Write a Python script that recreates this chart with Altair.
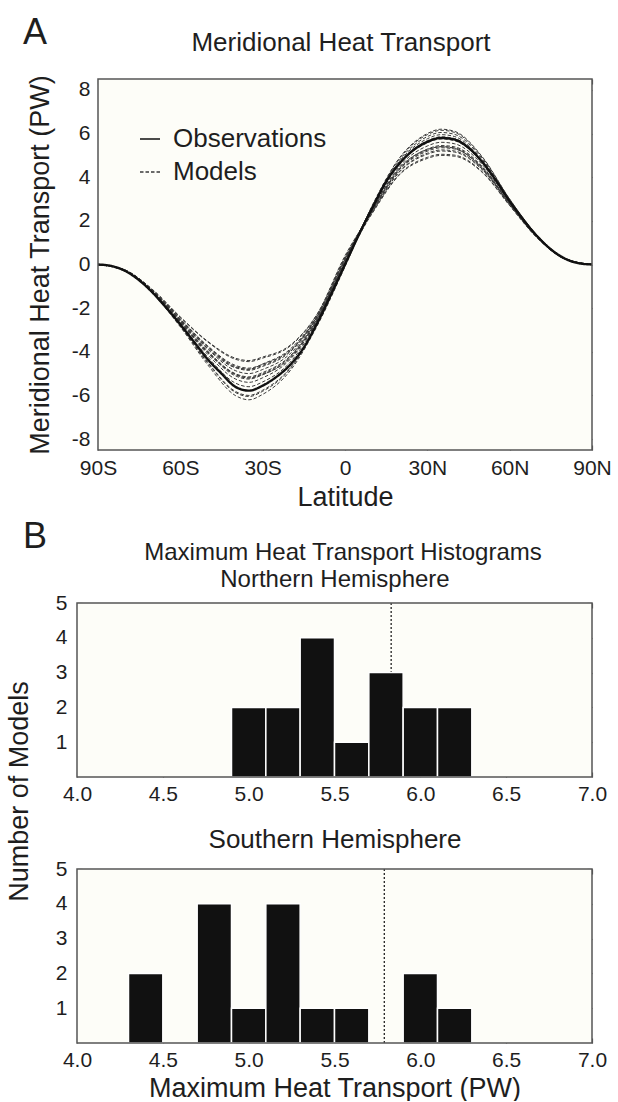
import altair as alt
import pandas as pd

FONT = "Liberation Sans"
INK = "#1e1e1e"
FRAME = "#555555"
PANEL_BG = "#fdfdf8"

# ---------------- Panel A: meridional heat transport ----------------
obs_lat = [-90, -85, -80, -75, -70, -65, -60, -55, -50, -45, -40, -35, -30, -25, -20, -15, -10, -5, 0,
           5, 10, 15, 20, 25, 30, 35, 40, 45, 50, 55, 60, 65, 70, 75, 80, 85, 90]
obs_val = [0, -0.07, -0.3, -0.72, -1.3, -2.0, -2.75, -3.55, -4.35, -5.0, -5.6, -5.78, -5.55, -5.15, -4.6, -3.8, -2.65, -1.35, 0.0,
           1.35, 2.6, 3.8, 4.65, 5.25, 5.62, 5.8, 5.72, 5.35, 4.7, 3.85, 2.9, 2.05, 1.3, 0.7, 0.28, 0.06, 0]

model_lat = [-90, -80, -70, -60, -50, -40, -35, -30, -20, -10, 0, 10, 20, 30, 35, 40, 50, 60, 70, 80, 90]
model_01 = [0, -0.26, -1.16, -2.40, -3.52, -4.29, -4.40, -4.24, -3.70, -2.24, 0.35, 2.48, 4.39, 5.24, 5.40, 5.34, 4.46, 2.80, 1.26, 0.27, 0]
model_02 = [0, -0.26, -1.17, -2.42, -3.55, -4.34, -4.45, -4.29, -3.74, -2.25, 0.40, 2.42, 4.26, 5.05, 5.20, 5.15, 4.34, 2.75, 1.24, 0.26, 0]
model_03 = [0, -0.27, -1.20, -2.50, -3.76, -4.67, -4.80, -4.62, -3.96, -2.36, 0.30, 2.36, 4.13, 4.86, 5.00, 4.96, 4.22, 2.70, 1.22, 0.26, 0]
model_04 = [0, -0.27, -1.20, -2.49, -3.73, -4.62, -4.75, -4.57, -3.93, -2.34, 0.25, 2.50, 4.42, 5.29, 5.45, 5.39, 4.49, 2.81, 1.27, 0.27, 0]
model_05 = [0, -0.27, -1.21, -2.52, -3.79, -4.72, -4.85, -4.67, -4.00, -2.37, 0.20, 2.54, 4.52, 5.43, 5.60, 5.53, 4.58, 2.85, 1.28, 0.27, 0]
model_06 = [0, -0.28, -1.22, -2.55, -3.85, -4.72, -4.80, -4.56, -3.88, -2.30, 0.30, 2.47, 4.36, 5.19, 5.35, 5.29, 4.43, 2.79, 1.26, 0.27, 0]
model_07 = [0, -0.28, -1.22, -2.55, -3.88, -4.86, -5.00, -4.81, -4.09, -2.42, 0.15, 2.65, 4.68, 5.63, 5.80, 5.74, 4.72, 2.90, 1.30, 0.28, 0]
model_08 = [0, -0.28, -1.24, -2.59, -3.97, -5.00, -5.15, -4.95, -4.19, -2.46, 0.10, 2.38, 4.16, 4.91, 5.05, 5.01, 4.25, 2.71, 1.23, 0.26, 0]
model_09 = [0, -0.28, -1.24, -2.60, -4.00, -5.05, -5.20, -5.00, -4.22, -2.48, 0.25, 2.55, 4.45, 5.27, 5.40, 5.32, 4.40, 2.78, 1.25, 0.27, 0]
model_10 = [0, -0.28, -1.25, -2.62, -4.03, -5.10, -5.25, -5.05, -4.26, -2.49, 0.10, 2.68, 4.81, 5.86, 6.05, 5.96, 4.85, 2.96, 1.33, 0.29, 0]
model_11 = [0, -0.29, -1.26, -2.65, -4.05, -5.02, -5.20, -5.04, -4.30, -2.55, 0.00, 2.58, 4.62, 5.57, 5.75, 5.67, 4.67, 2.89, 1.30, 0.28, 0]
model_12 = [0, -0.29, -1.26, -2.65, -4.12, -5.24, -5.40, -5.19, -4.35, -2.54, 0.20, 2.44, 4.29, 5.10, 5.25, 5.20, 4.37, 2.76, 1.25, 0.26, 0]
model_13 = [0, -0.29, -1.28, -2.70, -4.24, -5.43, -5.60, -5.38, -4.48, -2.60, 0.05, 2.62, 4.68, 5.67, 5.85, 5.77, 4.73, 2.91, 1.30, 0.28, 0]
model_14 = [0, -0.31, -1.32, -2.81, -4.48, -5.81, -6.00, -5.76, -4.74, -2.72, -0.05, 2.71, 4.88, 5.95, 6.15, 6.05, 4.91, 2.99, 1.34, 0.29, 0]
model_15 = [0, -0.31, -1.33, -2.82, -4.51, -5.86, -6.05, -5.81, -4.78, -2.73, 0.00, 2.65, 4.75, 5.76, 5.95, 5.86, 4.79, 2.94, 1.32, 0.28, 0]
model_16 = [0, -0.31, -1.34, -2.86, -4.60, -6.00, -6.20, -5.95, -4.87, -2.78, -0.10, 2.72, 4.91, 6.00, 6.20, 6.10, 4.94, 3.00, 1.34, 0.29, 0]
model_series = [model_01, model_02, model_03, model_04, model_05, model_06, model_07, model_08,
                model_09, model_10, model_11, model_12, model_13, model_14, model_15, model_16]

lat_ticks = [-90, -60, -30, 0, 30, 60, 90]
mht_ticks = [-8, -6, -4, -2, 0, 2, 4, 6, 8]

# ---------------- Panel B: histograms of maximum transport ----------------
nh_bin_start = [4.9, 5.1, 5.3, 5.5, 5.7, 5.9, 6.1]
nh_bin_end = [5.1, 5.3, 5.5, 5.7, 5.9, 6.1, 6.3]
nh_counts = [2, 2, 4, 1, 3, 2, 2]
nh_observed = 5.83

sh_bin_start = [4.3, 4.7, 4.9, 5.1, 5.3, 5.5, 5.9, 6.1]
sh_bin_end = [4.5, 4.9, 5.1, 5.3, 5.5, 5.7, 6.1, 6.3]
sh_counts = [2, 4, 1, 4, 1, 1, 2, 1]
sh_observed = 5.79

hist_x_ticks = [4.0, 4.5, 5.0, 5.5, 6.0, 6.5, 7.0]
hist_y_ticks = [1, 2, 3, 4, 5]

# ---------------- layout constants (pixels) ----------------
W = 515          # plot width of every panel (group width)
X0 = 21          # left inset of panel A frame inside its group
A_PLOT_H = 371   # panel A frame height
A_H = 432        # panel A group height (extra room compensates single concat spacing)
B_H = 174        # histogram frame height
TICK = 5
TITLE_SIZE = 27
HEAD_SIZE = 26
TICK_LABEL = 21

one = pd.DataFrame({"k": [0]})


def frame_bg(x0, x1, h):
    return alt.Chart(one).mark_rect(fill=PANEL_BG, stroke=None).encode(
        x=alt.value(x0), x2=alt.value(x1), y=alt.value(0), y2=alt.value(h))


def frame_border(x0, x1, h):
    return alt.Chart(one).mark_rect(fillOpacity=0, stroke=FRAME, strokeWidth=1.5).encode(
        x=alt.value(x0), x2=alt.value(x1), y=alt.value(0), y2=alt.value(h))


def label(text, x, y, size):
    return alt.Chart(pd.DataFrame({"t": [text]})).mark_text(
        font=FONT, fontSize=size, color=INK, align="center", baseline="middle"
    ).encode(text="t:N", x=alt.value(x), y=alt.value(y))


def main_axis(orient, values, **kw):
    base = dict(orient=orient, values=values, tickSize=TICK, tickColor=FRAME, tickWidth=1.2,
                domain=False, grid=False, labelFont=FONT, labelColor=INK, labelOverlap=False,
                labelFlush=False, titleFont=FONT, titleColor=INK, titleFontWeight="normal")
    base.update(kw)
    return alt.Axis(**base)


def mirror_axis(orient, values):
    return alt.Axis(orient=orient, values=values, offset=-TICK, tickSize=TICK, tickColor=FRAME,
                    tickWidth=1.2, domain=False, grid=False, labels=False, title=None)


# ---------------- Panel A chart ----------------
rows = []
for i, vals in enumerate(model_series):
    for la, v in zip(model_lat, vals):
        rows.append({"lat": la, "mht": v, "model": f"m{i + 1}", "series": "Models"})
models_df = pd.DataFrame(rows)
obs_df = pd.DataFrame({"lat": obs_lat, "mht": obs_val, "series": "Observations"})

xs_a = alt.Scale(domain=[-90, 90], range=[X0, W], nice=False, zero=False)
ys_a = alt.Scale(domain=[-8.5, 8.5], range=[A_PLOT_H, 0], nice=False, zero=False)
series_domain = ["Observations", "Models"]
legend = alt.Legend(orient="none", legendX=60, legendY=47, title=None, labelFont=FONT,
                    labelFontSize=HEAD_SIZE, labelColor=INK, symbolType="stroke", symbolSize=400,
                    symbolStrokeWidth=1.6, labelOffset=10, rowPadding=7, padding=0)
color_enc = alt.Color("series:N", scale=alt.Scale(domain=series_domain, range=["#111111", "#3a3a3a"]),
                      legend=legend)
dash_enc = alt.StrokeDash("series:N", scale=alt.Scale(domain=series_domain, range=[[1, 0], [3.5, 2]]),
                          legend=legend)

x_axis_a = main_axis("bottom", lat_ticks, offset=(A_PLOT_H - TICK) - A_H, labelFontSize=TICK_LABEL,
                     labelPadding=7,
                     labelExpr="datum.value == 0 ? '0' : (datum.value < 0 ? (-datum.value) + 'S' : datum.value + 'N')",
                     title="Latitude", titleFontSize=TITLE_SIZE, titleY=52, titleBaseline="middle")
y_axis_a = main_axis("left", mht_ticks, offset=-(X0 + TICK), labelFontSize=TICK_LABEL, labelPadding=8,
                     labelExpr="datum.value < 0 ? '-' + abs(datum.value) : '' + datum.value",
                     title="Meridional Heat Transport (PW)", titleFontSize=TITLE_SIZE, titleX=-63,
                     titleY=A_PLOT_H / 2, titleBaseline="middle")

model_lines = alt.Chart(models_df).mark_line(interpolate="monotone", strokeWidth=1.0).encode(
    x=alt.X("lat:Q", scale=xs_a, axis=x_axis_a),
    y=alt.Y("mht:Q", scale=ys_a, axis=y_axis_a),
    detail="model:N", color=color_enc, strokeDash=dash_enc)
obs_line = alt.Chart(obs_df).mark_line(interpolate="monotone", strokeWidth=2.4).encode(
    x=alt.X("lat:Q", scale=xs_a, axis=None),
    y=alt.Y("mht:Q", scale=ys_a, axis=None),
    color=color_enc, strokeDash=dash_enc)
ghost_a = alt.Chart(obs_df).mark_point(opacity=0).encode(
    x=alt.X("lat:Q", scale=xs_a, axis=mirror_axis("top", lat_ticks)),
    y=alt.Y("mht:Q", scale=ys_a, axis=mirror_axis("right", mht_ticks)))

panel_a = alt.layer(
    frame_bg(X0, W, A_PLOT_H), model_lines, obs_line, frame_border(X0, W, A_PLOT_H), ghost_a,
    label("A", -42, -46, 36), label("Meridional Heat Transport", 264, -36, HEAD_SIZE),
).resolve_axis(x="independent", y="independent").properties(width=W, height=A_H)


# ---------------- Panel B charts ----------------
def hist_panel(starts, ends, counts, observed, texts, x_title, y_title):
    df = pd.DataFrame({"start": starts, "end": ends, "count": counts})
    xs = alt.Scale(domain=[4, 7], nice=False, zero=False)
    ys = alt.Scale(domain=[0, 5], nice=False)
    x_kw = dict(offset=-TICK, labelFontSize=TICK_LABEL, labelPadding=6, format=".1f")
    if x_title:
        x_kw.update(title=x_title, titleFontSize=TITLE_SIZE, titleY=50, titleBaseline="middle")
    else:
        x_kw.update(title=None)
    y_kw = dict(offset=-TICK, labelFontSize=TICK_LABEL, labelPadding=10, format="d")
    if y_title:
        y_kw.update(title=y_title, titleFontSize=TITLE_SIZE, titleX=-63, titleY=188, titleBaseline="middle")
    else:
        y_kw.update(title=None)
    bars = alt.Chart(df).mark_rect(fill="#111111", stroke="white", strokeWidth=1.5).encode(
        x=alt.X("start:Q", scale=xs, axis=main_axis("bottom", hist_x_ticks, **x_kw)),
        x2="end:Q",
        y=alt.Y("count:Q", scale=ys, axis=main_axis("left", hist_y_ticks, **y_kw)),
        y2=alt.datum(0))
    obs_rule = alt.Chart(pd.DataFrame({"obs": [observed]})).mark_rule(
        color="#111111", strokeDash=[2, 2], strokeWidth=1.2).encode(
        x=alt.X("obs:Q", scale=xs, axis=None), y=alt.value(0), y2=alt.value(B_H))
    ghost = alt.Chart(df).mark_point(opacity=0).encode(
        x=alt.X("start:Q", scale=xs, axis=mirror_axis("top", hist_x_ticks)),
        y=alt.Y("count:Q", scale=ys, axis=mirror_axis("right", hist_y_ticks)))
    layers = [frame_bg(0, W, B_H), obs_rule, bars, frame_border(0, W, B_H), ghost]
    for t, x, y, s in texts:
        layers.append(label(t, x, y, s))
    return alt.layer(*layers).resolve_axis(x="independent", y="independent").properties(width=W, height=B_H)


panel_b_north = hist_panel(
    nh_bin_start, nh_bin_end, nh_counts, nh_observed,
    [("B", -42, -66, 36), ("Maximum Heat Transport Histograms", 266, -50, 24),
     ("Northern Hemisphere", 258, -23, 24)],
    None, "Number of Models")
panel_b_south = hist_panel(
    sh_bin_start, sh_bin_end, sh_counts, sh_observed,
    [("Southern Hemisphere", 258, -29, HEAD_SIZE)],
    "Maximum Heat Transport (PW)", None)

chart = alt.vconcat(panel_a, panel_b_north, panel_b_south, spacing=92, bounds="flush").properties(
    padding={"left": 5, "top": 15, "right": 0, "bottom": 0},
    background="white",
).configure_view(stroke=None)

chart.save("out.html", embed_options={"renderer": "svg", "actions": False})
